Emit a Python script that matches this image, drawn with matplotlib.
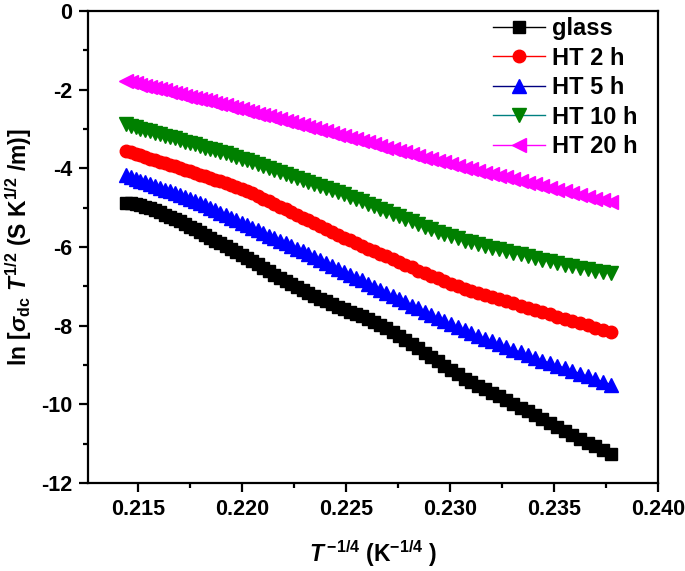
import numpy as np
import matplotlib
matplotlib.use("Agg")
import matplotlib.pyplot as plt
from matplotlib.ticker import MultipleLocator, FormatStrFormatter

plt.rcParams['font.family'] = ['Liberation Sans', 'DejaVu Sans']
plt.rcParams['font.weight'] = 'bold'
plt.rcParams['axes.unicode_minus'] = False
plt.rcParams['mathtext.fontset'] = 'custom'
plt.rcParams['mathtext.rm'] = 'Liberation Sans:bold'
plt.rcParams['mathtext.bf'] = 'Liberation Sans:bold'
plt.rcParams['mathtext.it'] = 'Liberation Sans:bold:italic'
plt.rcParams['mathtext.default'] = 'bf'

# Measurement temperatures (K), high -> low (x = T^-1/4 ascending)
temperature_K = [473, 471, 469, 467, 465, 463, 461, 459, 457, 455,
                 453, 451, 449, 447, 445, 443, 441, 439, 437, 435,
                 433, 431, 429, 427, 425, 423, 421, 419, 417, 415,
                 413, 411, 409, 407, 405, 403, 401, 399, 397, 395,
                 393, 391, 389, 387, 385, 383, 381, 379, 377, 375,
                 373, 371, 369, 367, 365, 363, 361, 359, 357, 355,
                 353, 351, 349, 347, 345, 343, 341, 339, 337, 335,
                 333, 331, 329, 327, 325, 323, 321, 319, 317, 315,
                 313]

glass = [-4.87, -4.88, -4.90, -4.94, -4.98, -5.02, -5.07, -5.12, -5.18, -5.23,
         -5.28, -5.35, -5.42, -5.48, -5.55, -5.62, -5.69, -5.76, -5.84, -5.91,
         -5.98, -6.06, -6.13, -6.21, -6.28, -6.36, -6.44, -6.53, -6.61, -6.70,
         -6.78, -6.86, -6.94, -7.01, -7.09, -7.17, -7.24, -7.31, -7.38, -7.45,
         -7.52, -7.58, -7.64, -7.70, -7.76, -7.82, -7.90, -7.98, -8.07, -8.16,
         -8.26, -8.36, -8.47, -8.58, -8.69, -8.80, -8.91, -9.02, -9.13, -9.24,
         -9.35, -9.44, -9.53, -9.62, -9.71, -9.80, -9.90, -9.99, -10.09, -10.18,
         -10.28, -10.38, -10.48, -10.58, -10.68, -10.78, -10.88, -10.98, -11.07, -11.17,
         -11.27]

ht2 = [-3.55, -3.59, -3.63, -3.67, -3.71, -3.75, -3.79, -3.83, -3.87, -3.91,
       -3.95, -3.99, -4.03, -4.08, -4.12, -4.16, -4.20, -4.24, -4.29, -4.33,
       -4.37, -4.42, -4.47, -4.53, -4.58, -4.63, -4.70, -4.77, -4.83, -4.90,
       -4.97, -5.04, -5.11, -5.18, -5.25, -5.32, -5.39, -5.47, -5.54, -5.62,
       -5.69, -5.76, -5.83, -5.90, -5.97, -6.04, -6.11, -6.18, -6.24, -6.31,
       -6.38, -6.45, -6.52, -6.60, -6.67, -6.74, -6.80, -6.87, -6.93, -7.00,
       -7.06, -7.11, -7.16, -7.22, -7.27, -7.32, -7.38, -7.43, -7.49, -7.54,
       -7.60, -7.66, -7.71, -7.77, -7.82, -7.88, -7.94, -7.99, -8.05, -8.10,
       -8.16]

ht5 = [-4.17, -4.22, -4.26, -4.31, -4.35, -4.40, -4.45, -4.49, -4.54, -4.58,
       -4.63, -4.68, -4.73, -4.78, -4.83, -4.88, -4.94, -5.00, -5.07, -5.13,
       -5.19, -5.25, -5.32, -5.38, -5.45, -5.51, -5.58, -5.64, -5.71, -5.77,
       -5.84, -5.91, -5.98, -6.04, -6.11, -6.18, -6.25, -6.33, -6.40, -6.48,
       -6.55, -6.63, -6.70, -6.78, -6.85, -6.93, -7.01, -7.09, -7.17, -7.25,
       -7.33, -7.41, -7.49, -7.56, -7.64, -7.72, -7.80, -7.88, -7.96, -8.04,
       -8.12, -8.19, -8.26, -8.33, -8.40, -8.47, -8.54, -8.61, -8.68, -8.75,
       -8.82, -8.89, -8.95, -9.02, -9.08, -9.15, -9.22, -9.29, -9.36, -9.43,
       -9.50]

ht10 = [-2.88, -2.92, -2.95, -2.99, -3.02, -3.06, -3.10, -3.13, -3.17, -3.20,
        -3.24, -3.28, -3.32, -3.35, -3.39, -3.43, -3.47, -3.51, -3.54, -3.58,
        -3.62, -3.66, -3.71, -3.75, -3.80, -3.84, -3.89, -3.94, -3.99, -4.04,
        -4.09, -4.14, -4.19, -4.24, -4.29, -4.34, -4.39, -4.44, -4.50, -4.55,
        -4.60, -4.66, -4.72, -4.78, -4.84, -4.90, -4.96, -5.03, -5.09, -5.16,
        -5.22, -5.29, -5.35, -5.42, -5.48, -5.55, -5.61, -5.67, -5.72, -5.78,
        -5.84, -5.88, -5.93, -5.97, -6.02, -6.06, -6.10, -6.15, -6.19, -6.24,
        -6.28, -6.32, -6.36, -6.41, -6.45, -6.49, -6.53, -6.56, -6.60, -6.63,
        -6.67]

ht20 = [-1.78, -1.81, -1.84, -1.87, -1.90, -1.93, -1.96, -1.99, -2.02, -2.05,
        -2.08, -2.11, -2.15, -2.18, -2.21, -2.24, -2.27, -2.30, -2.34, -2.37,
        -2.40, -2.43, -2.47, -2.50, -2.54, -2.57, -2.61, -2.64, -2.68, -2.71,
        -2.75, -2.79, -2.83, -2.86, -2.90, -2.94, -2.98, -3.02, -3.06, -3.10,
        -3.14, -3.18, -3.22, -3.26, -3.30, -3.34, -3.38, -3.42, -3.47, -3.51,
        -3.55, -3.59, -3.64, -3.68, -3.73, -3.77, -3.81, -3.85, -3.90, -3.94,
        -3.98, -4.02, -4.06, -4.11, -4.15, -4.19, -4.23, -4.27, -4.32, -4.36,
        -4.40, -4.45, -4.49, -4.54, -4.58, -4.63, -4.68, -4.72, -4.77, -4.81,
        -4.86]

labels = ['glass', 'HT 2 h', 'HT 5 h', 'HT 10 h', 'HT 20 h']
x_ticks = [0.215, 0.220, 0.225, 0.230, 0.235, 0.240]
y_ticks = [0, -2, -4, -6, -8, -10, -12]

x = np.array(temperature_K, dtype=float) ** -0.25

fig = plt.figure(figsize=(6.85, 5.71), dpi=100)
ax = fig.add_axes([0.1285, 0.1541, 0.8321, 0.8266])

series = [glass, ht2, ht5, ht10, ht20]
styles = [
    dict(marker='s', mfc='black', mec='black', color='black', ms=8),
    dict(marker='o', mfc='#ff0000', mec='#ff0000', color='#ff0000', ms=9),
    dict(marker='^', mfc='#0000ff', mec='#0000ff', color='#000080', ms=9.5),
    dict(marker='v', mfc='#008000', mec='#008000', color='#008080', ms=9.5),
    dict(marker='<', mfc='#ff00ff', mec='#ff00ff', color='#ff00ff', ms=9.5),
]
for y, lab, st in zip(series, labels, styles):
    ax.plot(x, y, lw=1.0, label=lab, **st)

ax.set_xlim(0.2126, 0.240)
ax.set_ylim(-12, 0)
ax.set_xticks(x_ticks)
ax.set_yticks(y_ticks)
ax.xaxis.set_minor_locator(MultipleLocator(0.0025))
ax.yaxis.set_minor_locator(MultipleLocator(1))
ax.xaxis.set_major_formatter(FormatStrFormatter('%.3f'))
ax.tick_params(which='major', direction='out', length=6.5, width=1.6, labelsize=15.5, pad=5)
ax.tick_params(which='minor', direction='out', length=3.5, width=1.6)
for lbl in ax.get_xticklabels() + ax.get_yticklabels():
    lbl.set_fontweight('bold')
for sp in ax.spines.values():
    sp.set_linewidth(1.6)

ax.set_xlabel(r'$\mathit{T}^{\,\mathbf{-1/4}}$ (K$^{\mathbf{-1/4}}$ )', fontsize=16.5,
              fontweight='bold', labelpad=13)
ax.set_ylabel(r'ln [$\mathit{\sigma}_{\mathbf{dc}}$ $\mathit{T}^{\mathbf{1/2}}$ (S K$^{\mathbf{1/2}}$ /m)]',
              fontsize=16.5, fontweight='bold', labelpad=5)

leg = ax.legend(loc='upper right', frameon=False, prop={'size': 17, 'weight': 'bold'},
                handlelength=2.2, handletextpad=0.3, labelspacing=0.28,
                borderaxespad=0.1, borderpad=0.15, bbox_to_anchor=(0.975, 1.0))

fig.savefig('out.png', dpi=100)
